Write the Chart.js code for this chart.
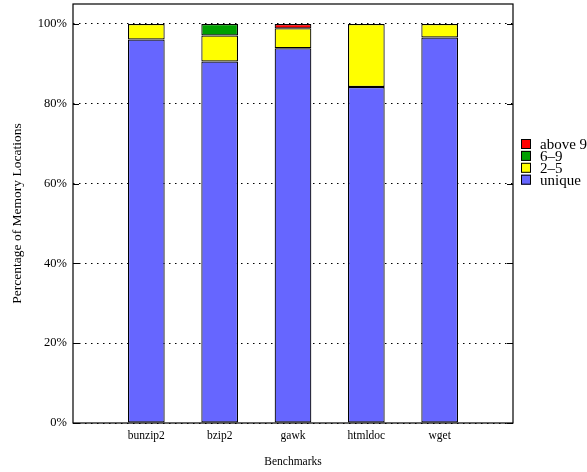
<!DOCTYPE html>
<html>
<head>
<meta charset="utf-8">
<script src="https://cdn.jsdelivr.net/npm/chart.js@4"></script>
<style>
  html, body { margin: 0; padding: 0; background: #fff; }
  #wrap { width: 587px; height: 472px; }
</style>
</head>
<body>
<div id="wrap"><canvas id="memChart"></canvas></div>
<script>
// === DATA ===
const benchmarks = ['bunzip2', 'bzip2', 'gawk', 'htmldoc', 'wget'];
const seriesNames = ['unique', '2\u20135', '6\u20139', 'above 9'];
const uniqueVals = [96.1, 90.6, 93.9, 84.2, 96.6];
const twoToFive  = [3.9, 6.5, 5.0, 15.8, 3.4];
const sixToNine  = [0, 2.9, 0, 0, 0];
const aboveNine  = [0, 0, 1.1, 0, 0];
const yTicks = [0, 20, 40, 60, 80, 100];

const COLORS = { blue: '#6666ff', yellow: '#ffff00', green: '#00a000', red: '#ff0000' };
const FONT = '"Liberation Serif", "DejaVu Serif", serif';

// empty slots either side so the bars sit where gnuplot put them
const labels = ['', ...benchmarks, ''];
const pad = arr => [null, ...arr.map(v => v || null), null];

const datasets = [uniqueVals, twoToFive, sixToNine, aboveNine].map((vals, i) => ({
    label: seriesNames[i],
    data: pad(vals),
    backgroundColor: [COLORS.blue, COLORS.yellow, COLORS.green, COLORS.red][i],
    borderColor: '#000',
    borderWidth: 1.2,
    borderSkipped: false,
    barPercentage: 0.5,
    categoryPercentage: 1.0
}));

// frame + inward tick marks, like the gnuplot border
const framePlugin = {
    id: 'frame',
    afterDraw(chart) {
        const { ctx, chartArea: a, scales } = chart;
        ctx.save();
        ctx.strokeStyle = '#000';
        ctx.lineWidth = 1.2;
        ctx.strokeRect(a.left, a.top, a.right - a.left, a.bottom - a.top);
        ctx.lineWidth = 1;
        yTicks.forEach(v => {
            const y = Math.round(scales.y.getPixelForValue(v)) + 0.5;
            ctx.beginPath();
            ctx.moveTo(a.left, y); ctx.lineTo(a.left + 6, y);
            ctx.moveTo(a.right, y); ctx.lineTo(a.right - 6, y);
            ctx.stroke();
        });
        ctx.restore();
    }
};

// legend outside the frame, top entry first, clipped by the canvas edge
const legendPlugin = {
    id: 'sideLegend',
    afterDraw(chart) {
        const { ctx, chartArea: a } = chart;
        const items = chart.data.datasets.slice().reverse();
        ctx.save();
        ctx.font = '15px ' + FONT;
        ctx.textBaseline = 'middle';
        items.forEach((ds, i) => {
            const x = a.right + 8;
            const y = 144 + i * 11.9;
            ctx.fillStyle = ds.backgroundColor;
            ctx.fillRect(x, y - 5, 10, 10);
            ctx.strokeStyle = '#000';
            ctx.lineWidth = 1;
            ctx.strokeRect(x + 0.5, y - 4.5, 9, 9);
            ctx.fillStyle = '#000';
            ctx.fillText(ds.label, x + 19, y + 1);
        });
        ctx.restore();
    }
};

new Chart(document.getElementById('memChart').getContext('2d'), {
    type: 'bar',
    data: { labels, datasets },
    options: {
        responsive: true, maintainAspectRatio: false, animation: false,
        layout: { padding: { top: 4, right: 74, left: 0, bottom: 0 } },
        plugins: { legend: { display: false }, tooltip: { enabled: false } },
        scales: {
            x: {
                stacked: true, offset: false,
                grid: { display: false, drawTicks: false },
                border: { display: false },
                ticks: { color: '#000', autoSkip: false, maxRotation: 0, padding: 6, font: { family: FONT, size: 11.5 } },
                title: { display: true, text: 'Benchmarks', color: '#000', padding: { top: 0, bottom: 3 }, font: { family: FONT, size: 11.5 } },
                afterFit: s => { s.height = 49; }
            },
            y: {
                stacked: true, min: 0, max: 105,
                afterBuildTicks: s => { s.ticks = yTicks.map(v => ({ value: v })); },
                grid: { color: '#000', lineWidth: 1, drawTicks: false },
                border: { display: false, dash: [1.5, 4.5] },
                ticks: { color: '#000', padding: 6, callback: v => v + '%', font: { family: FONT, size: 12.5 } },
                title: { display: true, text: 'Percentage of Memory Locations', color: '#000', padding: { top: 9, bottom: 0 }, font: { family: FONT, size: 13.5 } },
                afterFit: s => { s.width = 73; s.paddingTop = 0; s.paddingBottom = 0; }
            }
        }
    },
    plugins: [framePlugin, legendPlugin]
});
</script>
</body>
</html>
